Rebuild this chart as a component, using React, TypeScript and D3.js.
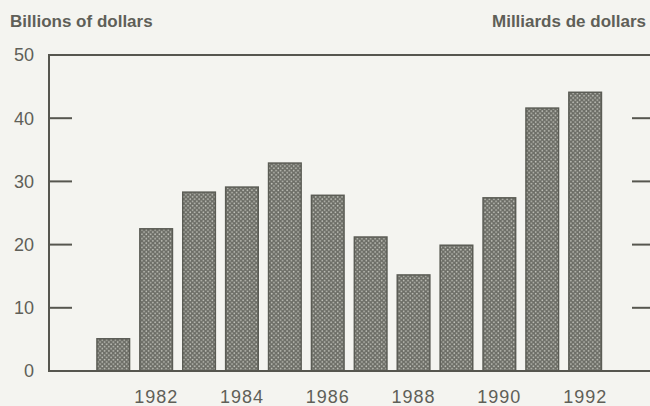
import React from "react";
import * as d3 from "d3";

const years = [1981, 1982, 1983, 1984, 1985, 1986, 1987, 1988, 1989, 1990, 1991, 1992];
const values = [5.1, 22.5, 28.3, 29.1, 32.9, 27.8, 21.2, 15.2, 19.9, 27.4, 41.6, 44.1];
const yTicks = [0, 10, 20, 30, 40, 50];
const xLabels = [1982, 1984, 1986, 1988, 1990, 1992];
const leftTitle = "Billions of dollars";
const rightTitle = "Milliards de dollars";

const W = 650;
const H = 406;
const axisX = 49;
const rightX = 650;
const top = 55;
const bottom = 371;

export default function App() {
  const x = d3
    .scaleBand<number>()
    .domain(years)
    .range([91.8, 606.6])
    .paddingInner(0.24)
    .paddingOuter(0.12);
  const y = d3.scaleLinear().domain([0, 50]).range([bottom, top]);

  const ink = "#56564f";
  const textCol = "#5f5f58";
  const font = "'Liberation Sans', Arial, Helvetica, sans-serif";

  return (
    <svg
      width={W}
      height={H}
      style={{ position: "absolute", left: 0, top: 0, background: "#f4f4f0" }}
    >
      <defs>
        <pattern id="dots" width={4.4} height={4.4} patternUnits="userSpaceOnUse">
          <rect width={4.4} height={4.4} fill="#6c6d66" />
          <circle cx={1.1} cy={1.1} r={0.85} fill="#c3c4bc" />
          <circle cx={3.3} cy={3.3} r={0.85} fill="#c3c4bc" />
        </pattern>
      </defs>
      <rect width={W} height={H} fill="#f4f4f0" />

      <text x={10} y={27} fontFamily={font} fontSize={17} fill={textCol} fontWeight={600}>
        {leftTitle}
      </text>
      <text x={492} y={27} fontFamily={font} fontSize={17} fill={textCol} fontWeight={600}>
        {rightTitle}
      </text>

      {values.map((v, i) => (
        <rect
          key={years[i]}
          x={x(years[i])}
          y={y(v)}
          width={x.bandwidth()}
          height={y(0) - y(v)}
          fill="url(#dots)"
          stroke="#5b5c55"
          strokeWidth={1.5}
        />
      ))}

      {/* frame */}
      <line x1={axisX} x2={rightX} y1={y(50)} y2={y(50)} stroke={ink} strokeWidth={2} />
      <line x1={axisX} x2={rightX} y1={y(0)} y2={y(0)} stroke={ink} strokeWidth={2} />
      <line x1={axisX} x2={axisX} y1={y(50) - 1} y2={y(0) + 1} stroke={ink} strokeWidth={2} />

      {yTicks.map((t) => (
        <g key={t}>
          {t > 0 && t < 50 && (
            <>
              <line x1={axisX} x2={72} y1={y(t)} y2={y(t)} stroke={ink} strokeWidth={2} />
              <line x1={632} x2={rightX} y1={y(t)} y2={y(t)} stroke={ink} strokeWidth={2} />
            </>
          )}
          <text
            x={34}
            y={y(t)}
            dy="0.36em"
            textAnchor="end"
            fontFamily={font}
            fontSize={18}
            fill={textCol}
          >
            {t}
          </text>
        </g>
      ))}

      {xLabels.map((yr) => (
        <text
          key={yr}
          x={(x(yr) as number) + x.bandwidth() / 2}
          y={403}
          textAnchor="middle"
          fontFamily={font}
          fontSize={18}
          letterSpacing={1}
          fill={textCol}
        >
          {yr}
        </text>
      ))}
    </svg>
  );
}
